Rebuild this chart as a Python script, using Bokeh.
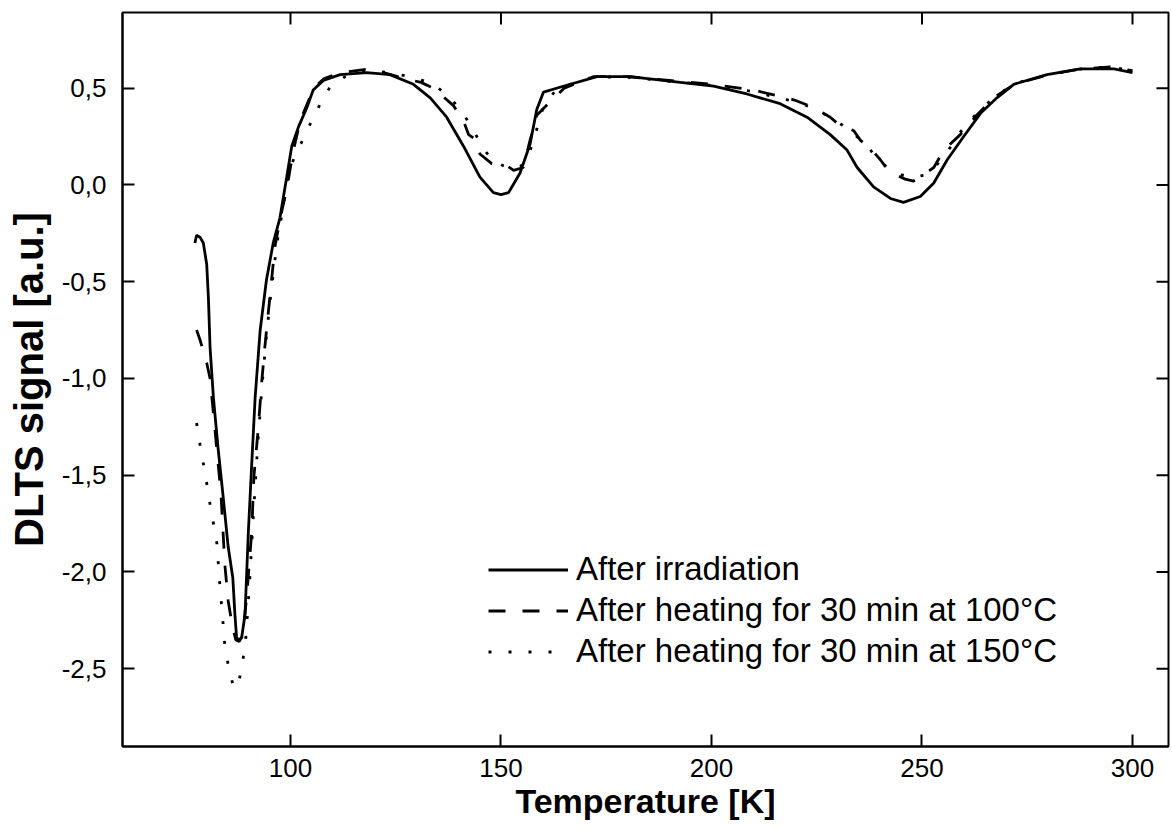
from bokeh.plotting import figure
from bokeh.models import Range1d, FixedTicker, Legend, LegendItem
from bokeh.embed import file_html
from bokeh.resources import INLINE
import math

# ---------------- data ----------------
x_ticks = [100, 150, 200, 250, 300]
y_ticks = [-2.5, -2.0, -1.5, -1.0, -0.5, 0.0, 0.5]
y_tick_labels = ["-2,5", "-2,0", "-1,5", "-1,0", "-0,5", "0,0", "0,5"]

labels = ["After irradiation",
          "After heating for 30 min at 100°C",
          "After heating for 30 min at 150°C"]

t_irr = [77.3, 77.7, 78.5, 79.3, 80.1, 80.5, 80.9, 81.7, 82.8, 84.0, 85.2, 86.3, 86.8, 87.2,
         87.8, 88.4, 89.2, 90.0, 90.8, 91.6, 92.8, 94.3, 95.9, 97.5, 99.1, 100.3, 101.9, 103.9,
         105.4, 107.8, 111.8, 118.1, 123.6, 129.2, 133.2, 137.1, 141.1, 145.0, 148.2, 150.0,
         151.8, 154.5, 156.9, 158.5, 160.1, 164.8, 172.8, 180.7, 192.6, 200.5, 208.4, 216.3,
         222.7, 228.2, 232.2, 234.6, 238.5, 242.5, 245.6, 249.6, 252.8, 256.0, 259.9, 263.9,
         267.8, 271.8, 279.7, 287.6, 295.6, 300.0]
s_irr = [-0.30, -0.26, -0.27, -0.30, -0.41, -0.58, -0.84, -1.10, -1.36, -1.61, -1.87, -2.03,
         -2.22, -2.34, -2.35, -2.34, -2.22, -1.79, -1.44, -1.10, -0.75, -0.49, -0.30, -0.17,
         0.04, 0.20, 0.30, 0.40, 0.49, 0.54, 0.57, 0.58, 0.57, 0.52, 0.45, 0.35, 0.20, 0.04,
         -0.04, -0.05, -0.04, 0.06, 0.21, 0.39, 0.48, 0.51, 0.56, 0.56, 0.53, 0.51, 0.47, 0.42,
         0.35, 0.26, 0.18, 0.09, -0.01, -0.07, -0.09, -0.06, 0.01, 0.13, 0.25, 0.37, 0.45,
         0.52, 0.57, 0.60, 0.60, 0.58]

t_100 = [77.7, 78.5, 80.1, 80.9, 82.0, 83.5, 84.4, 85.2, 86.2, 87.0, 87.8, 88.6, 89.6, 90.8,
         91.3, 92.3, 93.2, 93.9, 95.1, 96.3, 97.5, 99.3, 100.5, 102.3, 104.0, 105.5, 108.0,
         112.0, 118.9, 122.1, 127.0, 131.0, 134.0, 138.7, 141.1, 142.3, 144.3, 145.0, 147.8,
         151.4, 153.0, 155.3, 156.9, 158.5, 161.7, 165.0, 172.0, 180.0, 190.0, 200.0, 210.0,
         219.5, 224.3, 228.2, 229.8, 233.8, 235.4, 237.7, 240.1, 242.5, 244.0, 246.0, 248.0,
         249.6, 252.8, 255.2, 259.1, 263.0, 267.0, 272.0, 280.0, 288.0, 295.0, 300.0]
s_100 = [-0.75, -0.80, -0.92, -1.00, -1.25, -1.60, -1.96, -2.15, -2.28, -2.35, -2.36, -2.33,
         -2.13, -1.79, -1.51, -1.27, -1.01, -0.84, -0.58, -0.32, -0.18, 0.00, 0.16, 0.33, 0.42,
         0.50, 0.55, 0.58, 0.60, 0.58, 0.55, 0.53, 0.50, 0.41, 0.33, 0.26, 0.23, 0.16, 0.11,
         0.10, 0.075, 0.09, 0.23, 0.36, 0.43, 0.50, 0.56, 0.56, 0.54, 0.52, 0.49, 0.44, 0.40,
         0.35, 0.32, 0.28, 0.23, 0.19, 0.13, 0.06, 0.05, 0.03, 0.02, 0.04, 0.09, 0.18, 0.26,
         0.36, 0.45, 0.52, 0.57, 0.60, 0.61, 0.59]

t_150 = [77.7, 78.5, 79.3, 80.1, 80.9, 81.7, 82.5, 83.2, 84.0, 84.4, 85.2, 86.4, 87.2, 88.0,
         88.8, 89.4, 90.3, 91.2, 92.2, 93.2, 94.2, 95.4, 96.8, 98.2, 99.5, 101.2, 103.1, 105.0,
         107.1, 109.5, 113.0, 118.0, 124.0, 130.0, 134.0, 138.0, 141.0, 143.5, 146.0, 148.5,
         150.5, 152.5, 154.5, 156.5, 158.0, 160.0, 163.0, 170.0, 178.0, 188.0, 198.0, 208.0,
         218.0, 224.0, 229.0, 233.0, 237.0, 240.0, 243.0, 245.5, 248.0, 250.5, 253.0, 256.0,
         259.0, 263.0, 268.0, 273.0, 280.0, 288.0, 295.0, 300.0]
s_150 = [-1.23, -1.34, -1.44, -1.54, -1.65, -1.75, -1.85, -2.06, -2.27, -2.38, -2.48, -2.59,
         -2.60, -2.54, -2.44, -2.34, -2.05, -1.70, -1.35, -1.05, -0.80, -0.55, -0.30, -0.12,
         0.06, 0.16, 0.24, 0.33, 0.42, 0.51, 0.56, 0.59, 0.58, 0.55, 0.52, 0.45, 0.37, 0.28,
         0.18, 0.12, 0.10, 0.09, 0.09, 0.15, 0.25, 0.40, 0.49, 0.55, 0.56, 0.54, 0.52, 0.49,
         0.44, 0.40, 0.34, 0.28, 0.20, 0.12, 0.07, 0.05, 0.04, 0.05, 0.09, 0.17, 0.27, 0.37,
         0.47, 0.53, 0.57, 0.60, 0.61, 0.59]

# ---------------- figure ----------------
FONT = "Liberation Sans"
xr = Range1d(60.1, 308.55)
yr = Range1d(-2.902, 0.891)

p = figure(frame_width=1046, frame_height=734, x_range=xr, y_range=yr,
           output_backend="svg", toolbar_location=None,
           min_border_left=122, min_border_right=2, min_border_top=12, min_border_bottom=60)
p.background_fill_color = "white"
p.border_fill_color = "white"
p.outline_line_color = "black"
p.outline_line_width = 2
p.xgrid.visible = False
p.ygrid.visible = False

p.xaxis.ticker = FixedTicker(ticks=x_ticks)
p.yaxis.ticker = FixedTicker(ticks=y_ticks)
p.yaxis.major_label_overrides = {v: s for v, s in zip(y_ticks, y_tick_labels)}

for ax in list(p.xaxis) + list(p.yaxis):
    ax.major_label_text_font = FONT
    ax.major_label_text_font_size = "26px"
    ax.major_label_text_color = "black"
    ax.major_tick_in = 12
    ax.major_tick_out = 0
    ax.minor_tick_in = 0
    ax.minor_tick_out = 0
    ax.major_tick_line_width = 2
    ax.major_tick_line_color = "black"
    ax.axis_line_width = 2
    ax.axis_line_color = "black"
    ax.axis_label_text_font = FONT
    ax.axis_label_text_font_style = "bold"
    ax.axis_label_text_color = "black"

p.xaxis.major_label_standoff = 12
p.xaxis.axis_label = "Temperature [K]"
p.xaxis.axis_label_text_font_size = "34px"
p.xaxis.axis_label_standoff = 2

p.yaxis.major_label_standoff = 16
p.yaxis.axis_label = "DLTS signal [a.u.]"
p.yaxis.axis_label_text_font_size = "40px"
p.yaxis.axis_label_standoff = 8

# inward ticks on the top and right edges of the frame
p.ray(x=x_ticks, y=[yr.end] * len(x_ticks), length=12, angle=-math.pi / 2,
      length_units="screen", line_color="black", line_width=2)
p.ray(x=[xr.end] * len(y_ticks), y=y_ticks, length=12, angle=math.pi,
      length_units="screen", line_color="black", line_width=2)

r1 = p.line(t_irr, s_irr, line_color="black", line_width=2.8)
r2 = p.line(t_100, s_100, line_color="black", line_width=2.8, line_dash="17 17")
r3 = p.line(t_150, s_150, line_color="black", line_width=2.8, line_dash="3 17")

legend = Legend(items=[LegendItem(label=labels[0], renderers=[r1]),
                       LegendItem(label=labels[1], renderers=[r2]),
                       LegendItem(label=labels[2], renderers=[r3])],
                location=(366, 74.5), padding=0, margin=0, spacing=0,
                glyph_width=80, glyph_height=41, label_height=41, label_standoff=8,
                label_text_font=FONT, label_text_font_size="33px",
                label_text_color="black", border_line_color=None,
                background_fill_alpha=0)
p.add_layout(legend)

open("out.html", "w").write(file_html(p, INLINE))
